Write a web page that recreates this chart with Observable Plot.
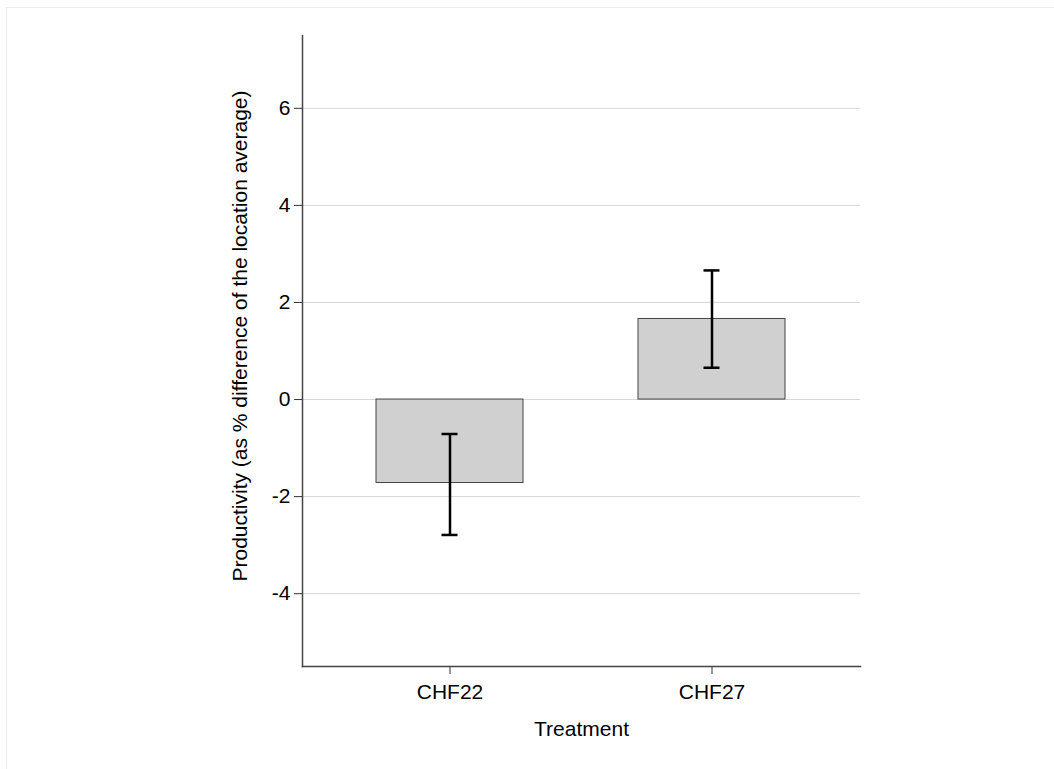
<!DOCTYPE html>
<html>
<head>
<meta charset="utf-8">
<script src="https://cdn.jsdelivr.net/npm/d3@7"></script>
<script src="https://cdn.jsdelivr.net/npm/@observablehq/plot@0.6"></script>
<style>
  html, body { margin: 0; padding: 0; background: #fff; overflow: hidden; }
  #wrap { position: relative; width: 1054px; height: 769px; }
  #border { position: absolute; left: 6px; top: 7px; width: 1100px; height: 800px; border: 1px solid #eceeed; box-sizing: border-box; }
  #chart { position: absolute; left: 0; top: 0; }
</style>
</head>
<body>
<div id="wrap"><div id="border"></div><div id="chart"></div></div>
<script>
const categories = ["CHF22", "CHF27"];
const means = [-1.72, 1.66];
const ciLow = [-2.79, 0.655];
const ciHigh = [-0.71, 2.66];
const yTicks = [-4, -2, 0, 2, 4, 6];
const xTitle = "Treatment";
const yTitle = "Productivity (as % difference of the location average)";

const data = categories.map((c, i) => ({c, mean: means[i], lo: ciLow[i], hi: ciHigh[i]}));

const chart = Plot.plot({
  width: 1054,
  height: 769,
  marginLeft: 302,
  marginRight: 194,
  marginTop: 35,
  marginBottom: 103,
  style: {fontFamily: "'Liberation Sans', Arial, sans-serif", fontSize: "21px", background: "transparent", color: "#000"},
  x: {domain: categories, paddingInner: 0.438, paddingOuter: 0.28, axis: null},
  y: {domain: [-5.5, 7.5], axis: null},
  marks: [
    Plot.gridY(yTicks, {stroke: "#d6d6d6", strokeOpacity: 1, strokeWidth: 1}),
    Plot.axisY(yTicks, {tickSize: 8, tickPadding: 4, tickFormat: d => String(d), label: null, stroke: "#333", fill: "#000", fontSize: 21}),
    Plot.axisX({tickSize: 8, tickPadding: 10, label: null, stroke: "#333", fill: "#000", fontSize: 21}),
    Plot.barY(data, {x: "c", y: "mean", fill: "#d0d0d0", stroke: "#444", strokeWidth: 1}),
    Plot.ruleX(data, {x: "c", y1: "lo", y2: "hi", stroke: "#000", strokeWidth: 2.5}),
    Plot.tickY(data, {x: "c", y: "lo", insetLeft: 65.5, insetRight: 65.5, stroke: "#000", strokeWidth: 2.5}),
    Plot.tickY(data, {x: "c", y: "hi", insetLeft: 65.5, insetRight: 65.5, stroke: "#000", strokeWidth: 2.5}),
    Plot.frame({anchor: "left", stroke: "#444", strokeWidth: 1.5}),
    Plot.frame({anchor: "bottom", stroke: "#444", strokeWidth: 1.5}),
    Plot.text([xTitle], {frameAnchor: "bottom", dy: 69, fill: "#000", fontSize: 21}),
    Plot.text([yTitle], {frameAnchor: "left", textAnchor: "middle", rotate: -90, dx: -62, dy: -15, fill: "#000", fontSize: 21})
  ]
});
document.getElementById("chart").appendChild(chart);
</script>
</body>
</html>
